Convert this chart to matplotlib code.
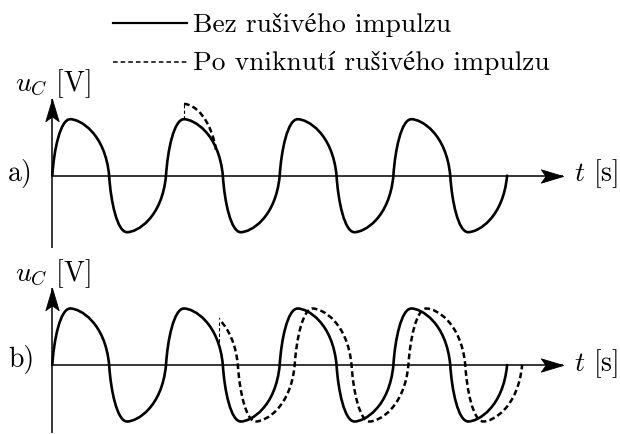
import matplotlib.pyplot as plt
from matplotlib.path import Path
from matplotlib.patches import PathPatch, Rectangle
from matplotlib.lines import Line2D
from matplotlib.markers import MarkerStyle
from matplotlib.transforms import Affine2D

plt.rcParams['mathtext.fontset'] = 'cm'
plt.rcParams['font.family'] = ['cmr10', 'STIXGeneral']
plt.rcParams['axes.unicode_minus'] = False

# one half-wave of u_C as cubic Bezier nodes (t in periods, u in amplitudes);
# the other half of the period is the same shape below the axis
half_t = [0.0, 0.014, 0.07, 0.158, 0.245, 0.465, 0.5]
half_u = [0.0, 0.45, 1.0, 1.0, 1.0, 0.75, 0.0]

# starts of the periods drawn
starts_solid = [0.0, 1.0, 2.0, 3.0]
starts_shifted = [0.132, 1.132, 2.132, 3.132]   # b) after the disturbance
shift_from = 1.466                             # b) dashed curve begins here

# a) disturbance bump on the second period
kick_t = [1.158, 1.26, 1.40, 1.44]
kick_u = [1.27, 1.27, 0.98, 0.45]
conn_a = (1.158, 1.0, 1.27)
conn_b = (1.466, 0.40, 0.78)

t_axis_end = 4.49
u_axis_lo = {'a': -1.28, 'b': -1.20}
u_axis_hi = 1.36

W, H = 620, 434
PX_T, PX_U = 113.7, 56.5          # pixels per period / per amplitude
X0 = 52.3
Y0 = {'a': 175.7, 'b': 365.0}


def wave_path(starts):
    verts, codes = [], []
    for k, t0 in enumerate(starts):
        for sign, off in ((1, 0.0), (-1, 0.5)):
            for i, (t, u) in enumerate(zip(half_t, half_u)):
                if i == 0:
                    if k == 0 and off == 0.0:
                        verts.append((t0, 0.0))
                        codes.append(Path.MOVETO)
                    continue
                verts.append((t0 + off + t, sign * u))
                codes.append(Path.CURVE4)
    return Path(verts, codes)


# stealth-like arrow head, tip at the origin, pointing right
head = Path([(0, 0), (-1, 0.3), (-0.78, 0), (-1, -0.3), (0, 0)],
            [Path.MOVETO, Path.LINETO, Path.LINETO, Path.LINETO, Path.CLOSEPOLY])

fig = plt.figure(figsize=(W / 100, H / 100), dpi=100)

axes = {}
for name in ('a', 'b'):
    ax = fig.add_axes([0, 0, 1, 1])
    ax.set_xlim(-X0 / PX_T, (W - X0) / PX_T)
    ax.set_ylim(-(H - Y0[name]) / PX_U, Y0[name] / PX_U)
    ax.axis('off')
    ax.patch.set_alpha(0)
    axes[name] = ax

    # coordinate axes with arrow heads
    ax.plot([0, t_axis_end], [0, 0], color='black', lw=1.1, solid_capstyle='butt')
    ax.plot([0, 0], [u_axis_lo[name], u_axis_hi], color='black', lw=1.1,
            solid_capstyle='butt')
    ax.plot([t_axis_end], [0], marker=MarkerStyle(head), ms=32, color='black',
            mew=0.6)
    ax.plot([0], [u_axis_hi], marker=MarkerStyle(head, transform=Affine2D().rotate_deg(90)),
            ms=32, color='black', mew=0.6)

    ax.add_patch(PathPatch(wave_path(starts_solid), fill=False, lw=1.9,
                           edgecolor='black', capstyle='round', joinstyle='round'))

# a) amplitude kick
ax = axes['a']
ax.plot([conn_a[0]] * 2, conn_a[1:], color='black', lw=0.8, ls=(0, (3, 2)))
kick = Path(list(zip(kick_t, kick_u)), [Path.MOVETO] + [Path.CURVE4] * 3)
ax.add_patch(PathPatch(kick, fill=False, lw=1.8, edgecolor='black', ls=(0, (2.3, 1.3))))

# b) phase shift
ax = axes['b']
ax.plot([conn_b[0]] * 2, conn_b[1:], color='black', lw=0.8, ls=(0, (3, 2)))
shifted = PathPatch(wave_path(starts_shifted), fill=False, lw=1.8, edgecolor='black',
                    ls=(0, (2.3, 1.3)))
ax.add_patch(shifted)
shifted.set_clip_path(Rectangle((shift_from, -3), 10, 6, transform=ax.transData))

# texts
def put(x, y, s, **kw):
    fig.text(x / W, 1 - y / H, s, va='baseline', **kw)


fs = 20
put(8, 181, 'a)', fontsize=fs)
put(8, 367, 'b)', fontsize=fs)
put(15, 91, r'$u_C$ [V]', fontsize=fs)
put(15, 281, r'$u_C$ [V]', fontsize=fs)
put(574, 181, r'$t$ [s]', fontsize=fs)
put(574, 371, r'$t$ [s]', fontsize=fs)

fig.add_artist(Line2D([113 / W, 187 / W], [1 - 23 / H] * 2, color='black', lw=1.6))
fig.add_artist(Line2D([113 / W, 187 / W], [1 - 62 / H] * 2, color='black', lw=1.1,
                      ls=(0, (3, 2))))
put(193, 32, 'Bez rušivého impulzu', fontsize=19.8)
put(193, 70, 'Po vniknutí rušivého impulzu', fontsize=19.8)

fig.savefig('out.png', dpi=100)
